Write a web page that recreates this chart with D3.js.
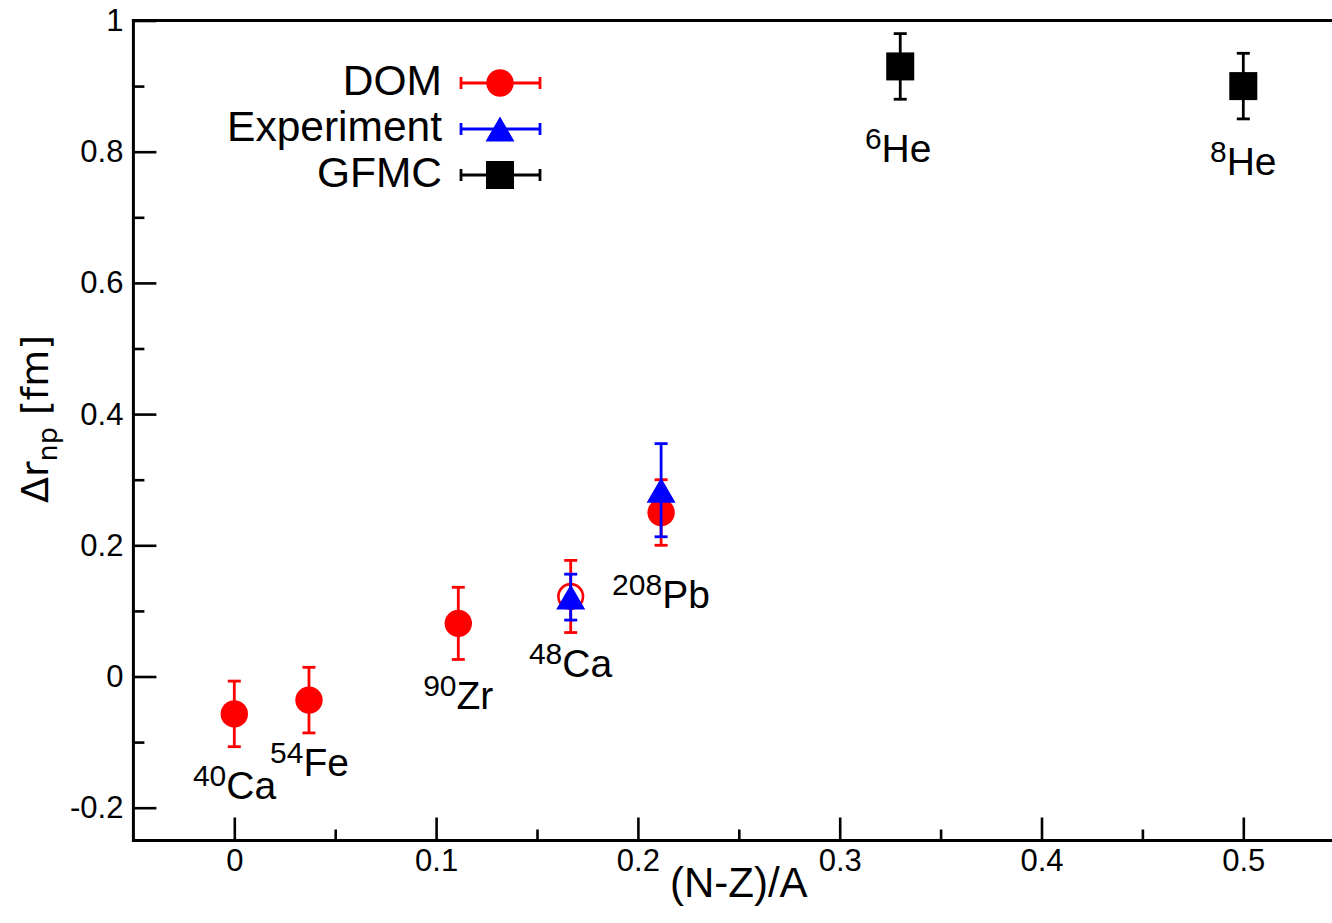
<!DOCTYPE html>
<html>
<head>
<meta charset="utf-8">
<script src="https://cdn.jsdelivr.net/npm/d3@7"></script>
<style>
  html, body { margin: 0; padding: 0; background: #fff; }
  svg { display: block; }
</style>
</head>
<body>
<script>
// series values
var domX = [0, 0.037, 0.111, 0.1667, 0.2115];
var domY = [-0.057, -0.036, 0.081, 0.122, 0.250];
var domErr = [0.05, 0.05, 0.055, 0.055, 0.05];
var domFilled = [true, true, true, false, true];

var expX = [0.1667, 0.2115];
var expY = [0.121, 0.284];
var expErr = [0.035, 0.071];

var gfmcX = [0.330, 0.500];
var gfmcY = [0.930, 0.900];
var gfmcErr = [0.05, 0.05];

var seriesNames = ["DOM", "Experiment", "GFMC"];

// nucleus labels (world coordinates, left/baseline)
var labelMass = ["40", "54", "90", "48", "208", "6", "8"];
var labelSym = ["Ca", "Fe", "Zr", "Ca", "Pb", "He", "He"];
var labelX = [-0.0205, 0.0177, 0.0936, 0.146, 0.1872, 0.3125, 0.4835];
var labelY = [-0.186, -0.151, -0.050, -0.001, 0.105, 0.785, 0.765];

var xMajor = [0, 0.1, 0.2, 0.3, 0.4, 0.5];
var xMinor = [0.05, 0.15, 0.25, 0.35, 0.45];
var yMajor = [-0.2, 0, 0.2, 0.4, 0.6, 0.8, 1];
var yMinor = [-0.1, 0.1, 0.3, 0.5, 0.7, 0.9];

var W = 1332, H = 923;
var font = "'Liberation Sans', Arial, Helvetica, sans-serif";

var svg = d3.select("body").append("svg")
    .attr("width", W)
    .attr("height", H);

svg.append("rect").attr("width", W).attr("height", H).attr("fill", "#fff");

var x = d3.scaleLinear().domain([-0.05, 0.55]).range([133.4, 1344.2]);
var y = d3.scaleLinear().domain([-0.25, 1.0]).range([840.5, 20.5]);

// plain hyphen minus, like the original
function fmt(d) { return String(+d.toFixed(2)); }

// x axis
var gx = svg.append("g").attr("transform", "translate(0," + y(-0.25) + ")");
gx.call(d3.axisBottom(x).tickValues(xMajor).tickFormat(fmt)
        .tickSizeInner(-23).tickSizeOuter(0).tickPadding(8));
gx.append("g").call(d3.axisBottom(x).tickValues(xMinor).tickFormat("")
        .tickSizeInner(-11).tickSizeOuter(0));

// y axis
var gy = svg.append("g").attr("transform", "translate(" + x(-0.05) + ",0)");
gy.call(d3.axisLeft(y).tickValues(yMajor).tickFormat(fmt)
        .tickSizeInner(-23).tickSizeOuter(0).tickPadding(10));
gy.append("g").call(d3.axisLeft(y).tickValues(yMinor).tickFormat("")
        .tickSizeInner(-11).tickSizeOuter(0));

svg.selectAll(".domain").remove();
svg.selectAll(".tick line").attr("stroke", "#000").attr("stroke-width", 2.6);
svg.selectAll(".tick text")
    .attr("font-family", font)
    .attr("font-size", 31)
    .attr("fill", "#000");

// frame
svg.append("rect")
    .attr("x", x(-0.05)).attr("y", y(1.0))
    .attr("width", x(0.55) - x(-0.05))
    .attr("height", y(-0.25) - y(1.0))
    .attr("fill", "none")
    .attr("stroke", "#000")
    .attr("stroke-width", 3);

// axis titles
svg.append("text")
    .attr("x", (x(-0.05) + x(0.55)) / 2)
    .attr("y", 897)
    .attr("text-anchor", "middle")
    .attr("font-family", font)
    .attr("font-size", 42)
    .text("(N-Z)/A");

var yt = svg.append("text")
    .attr("transform", "translate(48,419) rotate(-90)")
    .attr("text-anchor", "middle")
    .attr("font-family", "'DejaVu Sans', sans-serif")
    .attr("font-size", 38);
yt.append("tspan").text("\u0394r");
yt.append("tspan").attr("font-size", 27).attr("dy", 9).text("np");
yt.append("tspan").attr("dy", -9).text(" [fm]");

// markers
var capW = 6.5;
function errorBars(g, xs, ys, es, color) {
    var d = xs.map(function(v, i) { return {x: v, y: ys[i], e: es[i]}; });
    var eb = g.selectAll("g.eb").data(d).enter().append("g")
        .attr("stroke", color).attr("stroke-width", 2.8).attr("fill", "none");
    eb.append("line")
        .attr("x1", function(d) { return x(d.x); }).attr("x2", function(d) { return x(d.x); })
        .attr("y1", function(d) { return y(d.y + d.e); }).attr("y2", function(d) { return y(d.y - d.e); });
    eb.append("line")
        .attr("x1", function(d) { return x(d.x) - capW; }).attr("x2", function(d) { return x(d.x) + capW; })
        .attr("y1", function(d) { return y(d.y + d.e); }).attr("y2", function(d) { return y(d.y + d.e); });
    eb.append("line")
        .attr("x1", function(d) { return x(d.x) - capW; }).attr("x2", function(d) { return x(d.x) + capW; })
        .attr("y1", function(d) { return y(d.y - d.e); }).attr("y2", function(d) { return y(d.y - d.e); });
}

function triPath(cx, cy) {
    var w = 14.5, h = 12.5;
    return "M" + (cx - w) + "," + (cy + h) + "L" + cx + "," + (cy - h) + "L" + (cx + w) + "," + (cy + h) + "Z";
}

// DOM
var gDom = svg.append("g");
errorBars(gDom, domX, domY, domErr, "#ff0000");
gDom.selectAll("circle").data(domX).enter().append("circle")
    .attr("cx", function(d) { return x(d); })
    .attr("cy", function(d, i) { return y(domY[i]); })
    .attr("r", function(d, i) { return domFilled[i] ? 13.7 : 12.3; })
    .attr("fill", function(d, i) { return domFilled[i] ? "#ff0000" : "none"; })
    .attr("stroke", function(d, i) { return domFilled[i] ? "none" : "#ff0000"; })
    .attr("stroke-width", 2.6);

// Experiment
var gExp = svg.append("g");
errorBars(gExp, expX, expY, expErr, "#0000ff");
gExp.selectAll("path.m").data(expX).enter().append("path")
    .attr("d", function(d, i) { return triPath(x(d), y(expY[i])); })
    .attr("fill", "#0000ff");

// GFMC
var gG = svg.append("g");
errorBars(gG, gfmcX, gfmcY, gfmcErr, "#000");
gG.selectAll("rect").data(gfmcX).enter().append("rect")
    .attr("x", function(d) { return x(d) - 14; })
    .attr("y", function(d, i) { return y(gfmcY[i]) - 14; })
    .attr("width", 28).attr("height", 28)
    .attr("fill", "#000");

// nucleus labels
labelSym.forEach(function(s, i) {
    var t = svg.append("text")
        .attr("x", x(labelX[i]))
        .attr("y", y(labelY[i]))
        .attr("font-family", font)
        .attr("fill", "#000");
    t.append("tspan").attr("font-size", 30).attr("dy", -13).text(labelMass[i]);
    t.append("tspan").attr("font-size", 39).attr("dy", 13).text(s);
});

// legend
var legColors = ["#ff0000", "#0000ff", "#000"];
var legY = [83, 129, 175];
var leg = svg.append("g");
seriesNames.forEach(function(name, i) {
    var cy = legY[i];
    leg.append("text")
        .attr("x", 442).attr("y", cy + 12)
        .attr("text-anchor", "end")
        .attr("font-family", font)
        .attr("font-size", 42.5)
        .text(name);
    var g = leg.append("g").attr("stroke", legColors[i]).attr("stroke-width", 2.8);
    g.append("line").attr("x1", 461).attr("x2", 540).attr("y1", cy).attr("y2", cy);
    g.append("line").attr("x1", 461).attr("x2", 461).attr("y1", cy - 6).attr("y2", cy + 6);
    g.append("line").attr("x1", 540).attr("x2", 540).attr("y1", cy - 6).attr("y2", cy + 6);
    if (i === 0) {
        leg.append("circle").attr("cx", 500).attr("cy", cy).attr("r", 13.7).attr("fill", legColors[i]);
    } else if (i === 1) {
        leg.append("path").attr("d", triPath(500, cy)).attr("fill", legColors[i]);
    } else {
        leg.append("rect").attr("x", 486).attr("y", cy - 14).attr("width", 28).attr("height", 28).attr("fill", legColors[i]);
    }
});
</script>
</body>
</html>
